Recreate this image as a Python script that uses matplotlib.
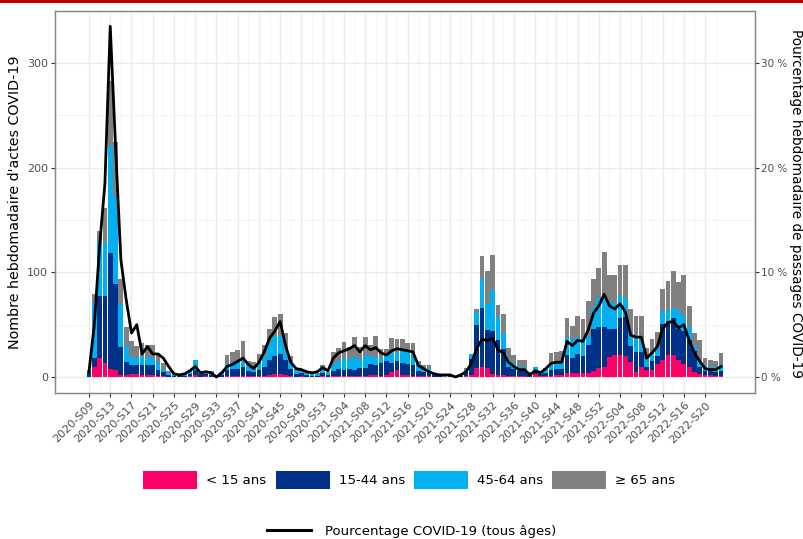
import matplotlib
matplotlib.use("Agg")
import matplotlib.pyplot as plt
import numpy as np
from matplotlib.patches import Patch, Rectangle
from matplotlib.lines import Line2D

plt.rcParams['font.family'] = ['DejaVu Sans']

# ---- data -------------------------------------------------------------
weeks = ([f"2020-S{w:02d}" for w in range(9, 54)]
         + [f"2021-S{w:02d}" for w in range(1, 53)]
         + [f"2022-S{w:02d}" for w in range(1, 24)])

age_lt15 = [0, 10, 18, 13, 8, 7, 2, 2, 3, 3,
            2, 2, 2, 1, 1, 0, 0, 0, 0, 1,
            2, 0, 1, 0, 0, 0, 1, 1, 1, 1,
            1, 1, 1, 1, 2, 3, 3, 2, 1, 0,
            1, 0, 0, 0, 1, 0, 1, 1, 1, 1,
            1, 1, 1, 2, 2, 1, 2, 5, 7, 2,
            2, 1, 1, 1, 1, 0, 0, 0, 0, 0,
            0, 1, 2, 9, 10, 9, 3, 2, 2, 1,
            1, 1, 1, 0, 3, 1, 1, 1, 2, 2,
            4, 4, 4, 4, 4, 6, 9, 10, 19, 21,
            21, 20, 14, 5, 10, 7, 7, 12, 16, 21,
            21, 16, 12, 10, 5, 3, 2, 2, 1, 1]

age_15_44 = [4, 8, 59, 64, 110, 82, 27, 12, 8, 8,
             9, 9, 9, 6, 4, 2, 1, 1, 1, 2,
             5, 3, 2, 2, 1, 2, 6, 7, 7, 9,
             5, 4, 6, 9, 14, 17, 19, 14, 7, 3,
             3, 2, 1, 1, 3, 2, 5, 7, 6, 7,
             6, 8, 8, 10, 9, 12, 13, 8, 8, 11,
             10, 10, 5, 4, 4, 2, 1, 0, 1, 1,
             1, 4, 15, 41, 56, 36, 41, 33, 25, 9,
             7, 5, 5, 2, 3, 2, 3, 6, 6, 6,
             17, 14, 18, 16, 27, 40, 39, 38, 27, 25,
             35, 37, 16, 19, 14, 3, 8, 8, 35, 32,
             35, 30, 32, 25, 20, 7, 4, 4, 4, 5]

age_45_64 = [3, 54, 52, 51, 103, 84, 41, 16, 8, 7,
             8, 8, 7, 6, 3, 2, 1, 1, 1, 2,
             9, 2, 2, 4, 1, 2, 5, 6, 7, 9,
             5, 5, 7, 10, 16, 19, 17, 13, 6, 3,
             2, 2, 1, 2, 6, 2, 6, 7, 11, 9,
             12, 8, 12, 8, 8, 5, 6, 10, 9, 13,
             12, 11, 6, 4, 4, 1, 1, 1, 1, 0,
             1, 3, 5, 12, 29, 25, 39, 22, 15, 7,
             5, 4, 4, 2, 4, 2, 4, 5, 5, 6,
             17, 17, 16, 15, 8, 21, 27, 30, 26, 25,
             22, 18, 12, 14, 14, 6, 6, 8, 12, 11,
             10, 18, 14, 13, 6, 6, 4, 4, 5, 6]

age_ge65 = [0, 7, 10, 33, 62, 51, 24, 18, 15, 12,
            13, 12, 13, 9, 5, 2, 1, 0, 1, 1,
            0, 1, 0, 0, 0, 1, 9, 10, 11, 15,
            4, 4, 8, 11, 14, 18, 21, 13, 6, 2,
            2, 1, 1, 1, 1, 1, 12, 13, 15, 12,
            19, 12, 17, 11, 20, 9, 6, 14, 12, 10,
            8, 10, 3, 2, 2, 1, 0, 0, 0, 0,
            0, 1, 0, 3, 21, 31, 34, 12, 18, 11,
            8, 6, 6, 1, 0, 1, 1, 11, 11, 11,
            18, 14, 20, 20, 34, 27, 29, 41, 25, 26,
            29, 32, 23, 20, 20, 12, 15, 15, 21, 28,
            35, 27, 39, 20, 11, 19, 8, 6, 5, 11]

pct_covid = [0.5, 5.0, 12.5, 18.5, 33.5, 22.0, 11.2, 7.4, 4.2, 5.0,
             2.2, 2.9, 2.2, 2.2, 1.8, 1.0, 0.3, 0.2, 0.3, 0.6,
             1.0, 0.4, 0.5, 0.4, 0.0, 0.4, 1.0, 1.2, 1.5, 1.8,
             1.2, 0.8, 1.4, 2.4, 3.7, 4.4, 5.3, 3.0, 1.4, 0.8,
             0.7, 0.5, 0.4, 0.5, 0.9, 0.6, 1.8, 2.3, 2.5, 2.7,
             3.0, 2.4, 3.0, 2.6, 2.8, 2.3, 2.1, 2.5, 2.7, 2.6,
             2.5, 2.4, 1.1, 0.8, 0.5, 0.3, 0.2, 0.2, 0.2, 0.0,
             0.2, 0.5, 1.3, 2.7, 3.6, 3.5, 3.7, 2.6, 2.3, 1.4,
             1.0, 0.7, 0.7, 0.2, 0.6, 0.4, 0.8, 1.3, 1.4, 1.4,
             3.4, 3.0, 3.5, 3.4, 4.5, 6.1, 6.8, 7.9, 6.8, 6.5,
             7.0, 6.2, 4.0, 3.8, 3.8, 1.8, 2.3, 2.9, 4.6, 5.2,
             5.3, 4.7, 5.0, 3.5, 2.3, 1.5, 0.8, 0.7, 0.7, 1.0]

series_labels = ["< 15 ans", "15-44 ans", "45-64 ans", "\u2265 65 ans"]
series_colors = ["#FF0066", "#003189", "#00B0F0", "#808080"]
line_label = "Pourcentage COVID-19 (tous \u00e2ges)"

# ---- figure -----------------------------------------------------------
W, H = 804, 539
fig = plt.figure(figsize=(W / 100, H / 100), dpi=100)
fig.add_artist(Rectangle((0, 1 - 2.5 / H), 1, 2.5 / H, transform=fig.transFigure,
                         color="#C00000", lw=0))

ax = fig.add_axes([55 / W, 1 - 393 / H, 700 / W, 382 / H])
x = np.arange(len(weeks))
bottom = np.zeros(len(weeks))
for vals, col in zip([age_lt15, age_15_44, age_45_64, age_ge65], series_colors):
    v = np.array(vals, dtype=float)
    ax.bar(x, v, width=0.9, bottom=bottom, color=col, linewidth=0, zorder=2)
    bottom += v

ylo, yhi = -15.3, 349.6
ax.set_ylim(ylo, yhi)
ax.set_xlim(-6.4, 125.4)
ax.set_yticks([0, 100, 200, 300])
ax.set_yticks([50, 150, 250], minor=True)
ax.set_xticks(x[::4])
ax.set_xticklabels([weeks[i] for i in x[::4]], rotation=45, ha="right",
                   va="top", rotation_mode="anchor")
ax.set_xticks(x[2::4], minor=True)
ax.set_axisbelow(True)
ax.grid(which="major", color="#EBEBEB", lw=1.0)
ax.grid(which="minor", color="#F2F2F2", lw=0.6)
ax.tick_params(which="minor", length=0)
ax.tick_params(which="major", length=3, width=0.8, color="#333333",
               labelcolor="#4D4D4D", labelsize=8, pad=2)

ax2 = ax.twinx()
ax2.plot(x, pct_covid, color="black", lw=2.0, zorder=3)
ax2.set_ylim(ylo / 10, yhi / 10)
ax2.set_yticks([0, 10, 20, 30])
ax2.set_yticklabels(["0 %", "10 %", "20 %", "30 %"])
ax2.tick_params(length=3, width=0.8, color="#333333", labelcolor="#4D4D4D",
                labelsize=7.5, pad=1.5)

for a in (ax, ax2):
    for s in a.spines.values():
        s.set_color("#888888")
        s.set_linewidth(0.9)

fig.text(15 / W, 1 - 202 / H, "Nombre hebdomadaire d'actes COVID-19",
         rotation=90, ha="center", va="center", fontsize=10.3)
fig.text(796 / W, 1 - 204 / H, "Pourcentage hebdomadaire de passages COVID-19",
         rotation=270, ha="center", va="center", fontsize=9.8)

handles = [Patch(facecolor=c, edgecolor="none") for c in series_colors]
fig.legend(handles, series_labels, loc="center", bbox_to_anchor=(0.509, 1 - 480 / H),
           ncol=4, frameon=False, fontsize=9.5, handlelength=4.1, handleheight=1.67,
           handletextpad=0.68, columnspacing=0.68)
fig.legend([Line2D([0], [0], color="black", lw=2.2)], [line_label], loc="center",
           bbox_to_anchor=(0.512, 1 - 531 / H), frameon=False, fontsize=9.5,
           handlelength=3.33, handletextpad=1.06)

fig.savefig("out.png", dpi=100)
